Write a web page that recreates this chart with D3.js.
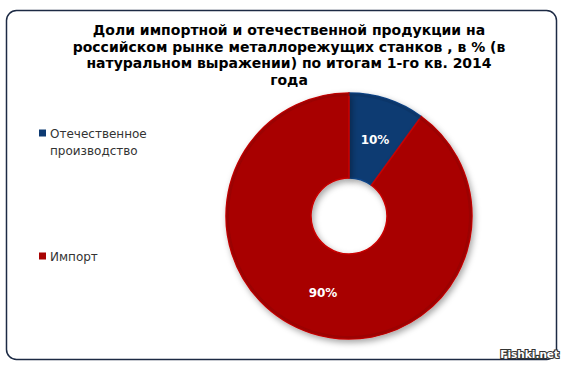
<!DOCTYPE html>
<meta charset="utf-8">
<head>
<script src="https://d3js.org/d3.v7.min.js"></script>
<style>
  body { margin: 0; background: #fff; }
  svg { display: block; }
</style>
</head>
<body>
<div id="chart"></div>
<script>
// data
var categories = ["Отечественное производство", "Импорт"];
var shares = [10, 90];
var titleLines = [
  "Доли импортной и отечественной продукции на",
  "российском рынке металлорежущих станков , в % (в",
  "натуральном выражении) по итогам 1-го кв. 2014",
  "года"
];
var legendLines = [["Отечественное", "производство"], ["Импорт"]];

var W = 566, H = 366;
var svg = d3.select("#chart").append("svg")
    .attr("width", W).attr("height", H);

var defs = svg.append("defs");
var f = defs.append("filter").attr("id", "shadow")
    .attr("x", "-20%").attr("y", "-20%").attr("width", "140%").attr("height", "140%");
f.append("feDropShadow").attr("dx", 2).attr("dy", 3).attr("stdDeviation", 3)
    .attr("flood-color", "#000").attr("flood-opacity", 0.35);

// frame
svg.append("rect")
    .attr("x", 6.5).attr("y", 10.5).attr("width", 550).attr("height", 349)
    .attr("rx", 10).attr("ry", 10)
    .attr("fill", "#fff").attr("stroke", "#1c2a44").attr("stroke-width", 1.5);

// title
svg.append("text")
    .attr("text-anchor", "middle")
    .style("font-family", "'DejaVu Sans', Verdana, sans-serif")
    .style("font-weight", "bold")
    .style("font-size", "14px")
    .attr("fill", "#000")
  .selectAll("tspan").data(titleLines).enter().append("tspan")
    .attr("x", 289)
    .attr("y", function(d, i) { return 35 + i * 16.7; })
    .text(function(d) { return d; });

var color = d3.scaleOrdinal().domain(categories).range(["#0d3a72", "#a80303"]);

// donut
var cx = 349, cy = 216, rOuter = 123, rInner = 38;
var pie = d3.pie().sort(null).value(function(d) { return d.v; });
var arcs = pie(categories.map(function(c, i) { return {c: c, v: shares[i]}; }));
var arc = d3.arc().innerRadius(rInner).outerRadius(rOuter);
var g = svg.append("g").attr("transform", "translate(" + cx + "," + cy + ")");

g.selectAll("path").data(arcs).enter().append("path")
    .attr("d", arc)
    .attr("fill", function(d) { return color(d.data.c); })
    .attr("stroke", function(d) { return d3.color(color(d.data.c)).brighter(0.5); })
    .attr("stroke-width", 1.5)
    .attr("filter", "url(#shadow)");

// inner bevel
g.selectAll("path.edge").data(arcs).enter().append("path")
    .attr("class", "edge")
    .attr("d", d3.arc().innerRadius(rOuter - 3).outerRadius(rOuter))
    .attr("fill", function(d) { return d3.color(color(d.data.c)).darker(0.5); })
    .attr("opacity", 0.5);

var labelPos = [[26, -76], [-26, 77]];
g.selectAll("text").data(arcs).enter().append("text")
    .attr("x", function(d, i) { return labelPos[i][0]; })
    .attr("y", function(d, i) { return labelPos[i][1]; })
    .attr("text-anchor", "middle")
    .attr("dy", "0.35em")
    .style("font-family", "'DejaVu Sans', Verdana, sans-serif")
    .style("font-weight", "bold")
    .style("font-size", "12px")
    .attr("fill", "#fff")
    .text(function(d) { return d.data.v + "%"; });

// legend
var legendY = [133, 256];
var leg = svg.selectAll("g.leg").data(categories).enter().append("g")
    .attr("class", "leg")
    .attr("transform", function(d, i) { return "translate(39," + legendY[i] + ")"; });
leg.append("rect")
    .attr("x", 0).attr("y", -3.5).attr("width", 7).attr("height", 7)
    .attr("fill", function(d) { return color(d); });
leg.append("text")
    .style("font-family", "'DejaVu Sans', Verdana, sans-serif")
    .style("font-size", "12px")
    .attr("fill", "#333")
  .selectAll("tspan").data(function(d, i) { return legendLines[i]; }).enter().append("tspan")
    .attr("x", 11)
    .attr("y", function(d, i) { return 4.5 + i * 17; })
    .text(function(d) { return d; });

// watermark
svg.append("text")
    .attr("x", 559).attr("y", 358)
    .attr("text-anchor", "end")
    .style("font-family", "'DejaVu Sans', sans-serif")
    .style("font-weight", "bold")
    .style("font-size", "10.5px")
    .attr("fill", "#fff").attr("stroke", "#333").attr("stroke-width", 2.2)
    .attr("paint-order", "stroke")
    .text("Fishki.net");
</script>
</body>
</html>
